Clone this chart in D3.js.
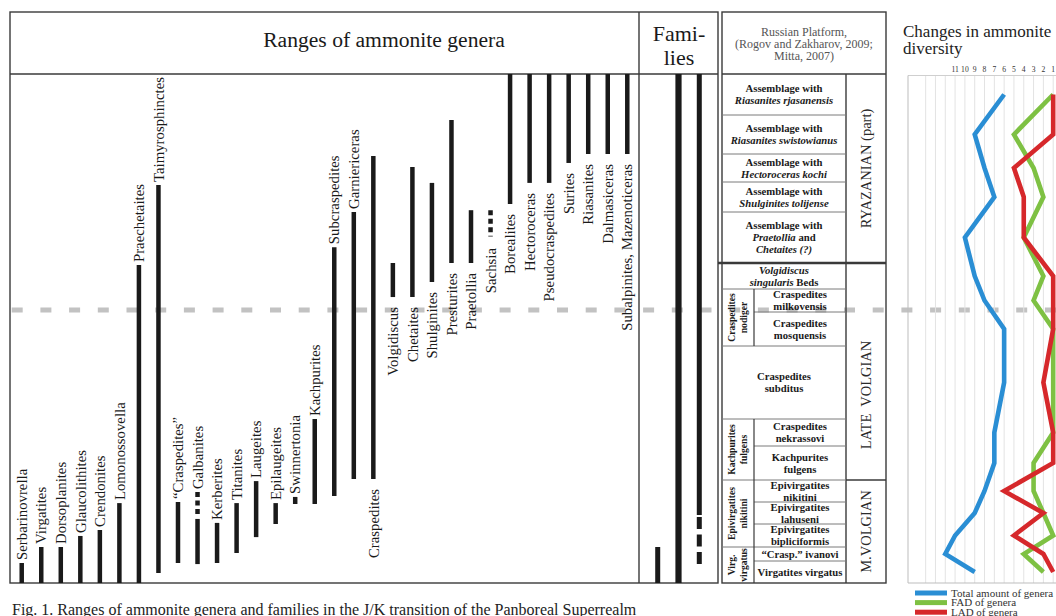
<!DOCTYPE html>
<html><head><meta charset="utf-8">
<script src="https://cdn.jsdelivr.net/npm/d3@7"></script>
<style>
body{margin:0;background:#fff;}
svg{display:block;font-family:"Liberation Serif","Times New Roman",serif;}
</style></head><body><svg id="c" width="1056" height="616"></svg>
<script>
// ---------------- DATA ----------------
// Zones of the Russian Platform, top (youngest) to bottom (oldest)
const zoneNames = [
 "Assemblage with|*Riasanites rjasanensis*",
 "Assemblage with|*Riasanites swistowianus*",
 "Assemblage with|*Hectoroceras kochi*",
 "Assemblage with|*Shulginites tolijense*",
 "Assemblage with|*Praetollia* and|*Chetaites (?)*",
 "*Volgidiscus*|*singularis* Beds",
 "Craspedites|milkovensis",
 "Craspedites|mosquensis",
 "Craspedites|subditus",
 "Craspedites|nekrassovi",
 "Kachpurites|fulgens",
 "Epivirgatites|nikitini",
 "Epivirgatites|lahuseni",
 "Epivirgatites|bipliciformis",
 "\u201cCrasp.\u201d ivanovi",
 "Virgatites virgatus"
];
// relative stratigraphic thickness of each zone (top to bottom)
const zoneSpan = [41,39,28,30,51,26,23,34,73,27,34,22,22,23,14,22];
const zoneGroups = ["Craspedites|nodiger","Kachpurites|fulgens","Epivirgatites|nikitini","Virg.|virgatus"];
const zoneGroupFirst = [6,9,11,14];
const zoneGroupLast  = [7,10,13,15];
const stages = ["RYAZANIAN (part)","LATE  VOLGIAN","M.VOLGIAN"];
const stageFirst = [0,5,11];
const stageLast  = [4,10,15];
const jkLevel = 9.09; // J/K boundary level (in zone units from the base)

// Genera ranges: levels in zone units counted from the base of the virgatus zone (0) to top (16)
const genera = ["Serbarinovrella","Virgatites","Dorsoplanites","Glaucolithites","Crendonites","Lomonossovella",
 "Praechetaites","Taimyrosphinctes","\u201cCraspedites\u201d","Galbanites","Kerberites","Titanites","Laugeites",
 "Epilaugeites","Swinnertonia","Kachpurites","Subcraspedites","Garniericeras","Craspedites","Volgidiscus",
 "Chetaites","Shulginites","Presturites","Praetollia","Sachsia","Borealites","Hectoroceras","Pseudocraspedites",
 "Surites","Riasanites","Dalmasiceras","Subalpinites, Mazenoticeras"];
const generaBase = [0,0,0,0,0,0, 0,0.45,0.91,0.86,0.91,1.57,2.43, 3.0,3.91,3.91,4.27,5.03,5.03,9.65,
 9.65,10.27,11.0,11.0,11.49,12.27,12.97,12.97, 13.68,14.0,14.0,14.0];
const generaTop  = [0.91,2.0,2.0,2.48,2.74,3.95, 10.92,12.9,4.0,4.45,3.05,3.95,4.95, 3.95,4.23,7.0,11.31,12.0,13.93,11.0,
 13.54,12.97,14.87,12.06,12.06,16,16,16, 16,16,16,16];
// level up to which the range is solid (dashed above, uncertain)
const generaSolidTop = generaTop.map((t,i)=> genera[i]==="Galbanites" ? 3.23 : genera[i]==="Sachsia" ? 11.49 : t);

const families = ["F1","F2","F3"];
const famBase = [0,0,0.86];
const famTop = [2.0,16,16];
const famSolidBase = [0,0,3.41];

// Diversity per zone (top to bottom)
const totalGenera = [6,9,8,7,10,9,8,6,6,7,7,8,9,11,12,9];
const fadGenera   = [1,5,3,2,4,2,3,1,1,1,3,3,2,1,4,2];
const ladGenera   = [1,1,5,4,4,1,1,1,2,1,1,6,2,5,2,1];
const diversityTicks = [11,10,9,8,7,6,5,4,3,2,1];
const seriesNames = ["Total amount of genera","FAD of genera","LAD of genera"];
const seriesColors = ["#2a8ed4","#7ec143","#d6282b"];

// ---------------- LAYOUT ----------------
const svg = d3.select("#c");
const T = 74, B = 583;
const spansUp = zoneSpan.slice().reverse();
const cum = [0]; spansUp.forEach(s=>cum.push(cum[cum.length-1]+s));
const tot = cum[cum.length-1];
const y = d3.scaleLinear().domain(d3.range(cum.length)).range(cum.map(c=>B-(B-T)*c/tot));
const nZ = zoneNames.length;
const zTop = k => y(nZ-k), zBot = k => y(nZ-1-k), zMid = k => y(nZ-k-0.5);

const x = d3.scalePoint().domain(genera).range([10,639]).padding(0.6);
const xf = d3.scalePoint().domain(families).range([639,718]).padding(0.9);
const xd = d3.scaleLinear().domain([15.8,0]).range([908,1063]);

const ink = "#1a1a1a", frame = "#3a3a3a";

// J/K dashed line (under everything)
svg.append("line").attr("x1",11.7).attr("x2",1056).attr("y1",y(jkLevel)).attr("y2",y(jkLevel))
  .attr("stroke","#c2c2c2").attr("stroke-width",5).attr("stroke-dasharray","11,17.7");

// ---- frames ----
const fr = svg.append("g").attr("fill","none").attr("stroke",frame).attr("stroke-width",1.4);
fr.append("rect").attr("x",10).attr("y",12).attr("width",708).attr("height",B-12);
fr.append("line").attr("x1",10).attr("x2",718).attr("y1",T).attr("y2",T);
fr.append("line").attr("x1",639).attr("x2",639).attr("y1",12).attr("y2",B);
fr.append("rect").attr("x",722).attr("y",12).attr("width",164).attr("height",B-12);
fr.append("line").attr("x1",722).attr("x2",886).attr("y1",T).attr("y2",T);
fr.append("line").attr("x1",846).attr("x2",846).attr("y1",T).attr("y2",B);

// zone cell lines
const inGroup = k => zoneGroupFirst.some((f,i)=>k>=f && k<=zoneGroupLast[i]);
const cellX0 = k => inGroup(k) ? 754 : 722;
const zl = svg.append("g").attr("stroke","#7a7a7a").attr("stroke-width",1);
for (let k=1;k<nZ;k++){
  const isGroupStart = zoneGroupFirst.includes(k) || zoneGroupLast.includes(k-1) || !inGroup(k);
  const x0 = (isGroupStart && !(inGroup(k) && inGroup(k-1) && !zoneGroupFirst.includes(k))) ? 722 : 754;
  zl.append("line").attr("x1",x0).attr("x2",846).attr("y1",zTop(k)).attr("y2",zTop(k));
}
zoneGroupFirst.forEach((f,i)=>{
  zl.append("line").attr("x1",754).attr("x2",754).attr("y1",zTop(f)).attr("y2",zBot(zoneGroupLast[i]))
    .attr("stroke",frame).attr("stroke-width",1.2);
});
// stage boundaries
stageFirst.forEach((f,i)=>{ if(i===0) return;
  const yy = zTop(f);
  svg.append("line").attr("x1", f===5?718:846).attr("x2",886).attr("y1",yy).attr("y2",yy)
    .attr("stroke",frame).attr("stroke-width", f===5?2.6:1.4);
});

// ---- rich text helper ----
function rich(g, str, cx, cy, fs, lh, bold){
  const lines = str.split("|");
  lines.forEach((ln,j)=>{
    const t = g.append("text").attr("x",cx).attr("y",cy+(j-(lines.length-1)/2)*lh+fs*0.35)
      .attr("text-anchor","middle").attr("font-size",fs).attr("font-weight",bold?"bold":"normal").attr("fill",ink);
    ln.split(/(\*[^*]+\*)/).filter(s=>s.length).forEach(s=>{
      const it = s.startsWith("*");
      t.append("tspan").text(it? s.slice(1,-1): s).attr("font-style",it?"italic":"normal");
    });
  });
}

// zone texts
const zt = svg.append("g");
zoneNames.forEach((nm,k)=>{
  rich(zt, nm, (cellX0(k)+846)/2, zMid(k), 10.7, 12.2, true);
});
zoneGroups.forEach((nm,i)=>{
  const cy = (zTop(zoneGroupFirst[i])+zBot(zoneGroupLast[i]))/2;
  const g = svg.append("g").attr("transform",`translate(738,${cy}) rotate(-90)`);
  rich(g, nm, 0, 0, 9.6, 12, true);
});
// stages
stages.forEach((s,i)=>{
  let lo = nZ-1-stageLast[i], hi = nZ-stageFirst[i];
  if (jkLevel>lo && jkLevel<hi) hi = jkLevel;
  const cy = (y(lo)+y(hi))/2;
  svg.append("text").attr("transform",`translate(866,${cy}) rotate(-90)`).attr("dy","0.35em")
    .attr("text-anchor","middle").attr("font-size",14.5).attr("fill","#2a2a2a")
    .style("white-space","pre").text(s);
});

// headers
svg.append("text").attr("x",384).attr("y",47).attr("text-anchor","middle").attr("font-size",21.6).attr("fill",ink)
  .text("Ranges of ammonite genera");
rich(svg, "Fami-|lies", 679, 45, 22, 24, false);
rich(svg.append("g").attr("fill","#555"), "Russian Platform,|(Rogov and Zakharov, 2009;|Mitta, 2007)", 804, 44, 12, 12, false);
svg.selectAll("text").filter(function(){return this.textContent.startsWith("Russian")||this.textContent.startsWith("(Rogov")||this.textContent.startsWith("Mitta");}).attr("fill","#555");

// ---- genus ranges ----
const bars = svg.append("g").attr("stroke",ink).attr("stroke-width",4.5);
genera.forEach((g,i)=>{
  const gx = x(g);
  const solidTop = generaSolidTop[i];
  if (solidTop > generaBase[i])
    bars.append("line").attr("x1",gx).attr("x2",gx).attr("y1",y(generaBase[i])).attr("y2",y(solidTop));
  if (solidTop < generaTop[i])
    bars.append("line").attr("x1",gx).attr("x2",gx).attr("y1",y(generaTop[i])).attr("y2",y(solidTop)-1.5)
      .attr("stroke-dasharray","5,3.5");
});
const labelsAboveCount = 18;
const lab = svg.append("g").attr("font-size",14.8).attr("fill",ink);
genera.forEach((g,i)=>{
  const above = i < labelsAboveCount;
  const yy = above ? y(generaTop[i]) - 3 : y(generaBase[i]) + 10;
  lab.append("text").attr("transform",`translate(${x(g)},${yy}) rotate(-90)`).attr("dy","0.35em")
    .attr("text-anchor", above ? "start" : "end").text(g);
});

// ---- families ----
const fw = [5,6.2,5];
families.forEach((f,i)=>{
  const fx = xf(f);
  bars.append("line").attr("x1",fx).attr("x2",fx).attr("y1",y(famSolidBase[i])).attr("y2",y(famTop[i])).attr("stroke-width",fw[i]);
  if (famSolidBase[i] > famBase[i])
    bars.append("line").attr("x1",fx).attr("x2",fx).attr("y1",y(famBase[i])).attr("y2",y(famSolidBase[i]))
      .attr("stroke-width",fw[i]).attr("stroke-dasharray","12,5.5");
});

// ---- diversity chart ----
const dg = svg.append("g");
const pT = 75.5;
d3.range(1,15).forEach(v=>{
  dg.append("line").attr("x1",xd(v)).attr("x2",xd(v)).attr("y1",pT).attr("y2",B).attr("stroke","#e3e3e3").attr("stroke-width",1);
});
dg.append("line").attr("x1",908).attr("x2",1056).attr("y1",pT).attr("y2",pT).attr("stroke","#cfcfcf");
dg.append("line").attr("x1",908).attr("x2",1056).attr("y1",B).attr("y2",B).attr("stroke","#bdbdbd");
dg.append("line").attr("x1",908).attr("x2",908).attr("y1",pT).attr("y2",B).attr("stroke","#bdbdbd");
diversityTicks.forEach(v=>{
  dg.append("text").attr("x",xd(v)).attr("y",71.5).attr("text-anchor","middle").attr("font-size",7.6).attr("fill","#333").text(v);
});
const line = d3.line().x(d=>xd(d)).y((d,k)=>zMid(k)).curve(d3.curveLinear);
[totalGenera,fadGenera,ladGenera].forEach((s,i)=>{
  dg.append("path").attr("d",line(s)).attr("fill","none").attr("stroke",seriesColors[i])
    .attr("stroke-width",4.6).attr("stroke-linejoin","miter");
});
seriesNames.forEach((n,i)=>{
  const ly = 593 + i*9.6;
  dg.append("line").attr("x1",915).attr("x2",947).attr("y1",ly).attr("y2",ly).attr("stroke",seriesColors[i]).attr("stroke-width",5);
  dg.append("text").attr("x",951).attr("y",ly+3.8).attr("font-size",11).attr("fill","#333").text(n);
});
dg.append("text").attr("x",903).attr("y",37).attr("font-size",17).attr("fill","#222").text("Changes in ammonite");
dg.append("text").attr("x",903).attr("y",54).attr("font-size",17).attr("fill","#222").text("diversity");

// caption
svg.append("text").attr("x",12).attr("y",615).attr("font-size",16).attr("fill","#222")
  .text("Fig. 1. Ranges of ammonite genera and families in the J/K transition of the Panboreal Superrealm");
</script></body></html>
